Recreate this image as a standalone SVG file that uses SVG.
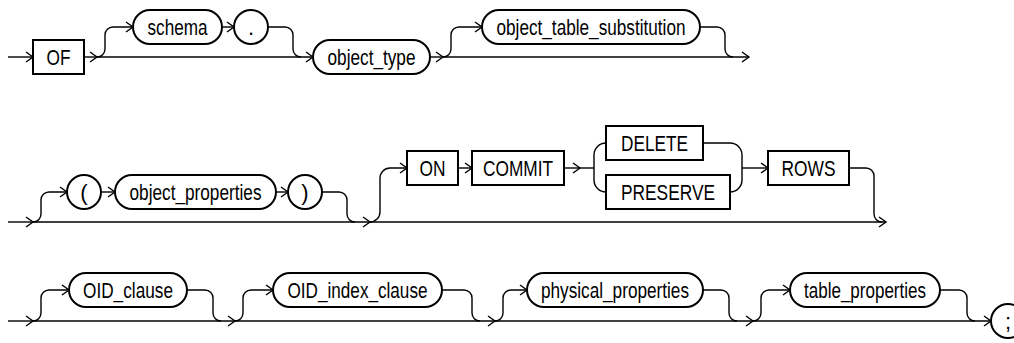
<svg xmlns="http://www.w3.org/2000/svg" width="1014" height="343" viewBox="0 0 1014 343">
<style>
.n{fill:#fff;stroke:#000;stroke-width:2}
.c{fill:none;stroke:#000;stroke-width:1.4}
.a{marker-end:url(#ar)}
text{font-family:"Liberation Sans Narrow","Liberation Sans",Arial,sans-serif;font-size:22px;text-anchor:middle;fill:#000}
</style>
<defs>
<marker id="ar" markerUnits="userSpaceOnUse" markerWidth="10" markerHeight="12" refX="7" refY="5" orient="auto" overflow="visible">
<path d="M0,0 L7,5 L0,10" fill="none" stroke="#000" stroke-width="1.4"/>
</marker>
</defs>
<g id="connectors">
<path class="c a" d="M8,57 L33,57"/>
<path class="c a" d="M84,57 L97,57"/>
<path class="c a" d="M97,57 L313,57"/>
<path class="c a" d="M97,57 A8,8 0 0 0 105,49 L105,35 A8,8 0 0 1 113,27 L133,27"/>
<path class="c a" d="M222,27 L234,27"/>
<path class="c" d="M268,27 L285,27 A8,8 0 0 1 293,35 L293,49 A8,8 0 0 0 301,57"/>
<path class="c a" d="M430,57 L443,57"/>
<path class="c a" d="M443,57 L749,57"/>
<path class="c a" d="M443,57 A8,8 0 0 0 451,49 L451,35 A8,8 0 0 1 459,27 L482,27"/>
<path class="c" d="M700,27 L717,27 A8,8 0 0 1 725,35 L725,49 A8,8 0 0 0 733,57"/>

<path class="c a" d="M8,222 L33,222"/>
<path class="c a" d="M33,222 L370,222"/>
<path class="c a" d="M370,222 L886,222"/>
<path class="c a" d="M33,222 A8,8 0 0 0 41,214 L41,200 A8,8 0 0 1 49,192 L67,192"/>
<path class="c a" d="M101,192 L115,192"/>
<path class="c a" d="M276,192 L288,192"/>
<path class="c" d="M322,192 L339,192 A8,8 0 0 1 347,200 L347,214 A8,8 0 0 0 355,222"/>
<path class="c a" d="M370,222 A10,10 0 0 0 380,212 L380,178 A10,10 0 0 1 390,168 L407,168"/>
<path class="c a" d="M458,168 L472,168"/>
<path class="c a" d="M564,168 L580,168"/>
<path class="c" d="M580,168 L594,168"/>
<path class="c" d="M606,143 A12,12 0 0 0 594,155 L594,180 A12,12 0 0 0 606,192"/>
<path class="c" d="M703,143 L730,143 A12,12 0 0 1 742,155 L742,180 A12,12 0 0 1 730,192"/>
<path class="c a" d="M742,168 L768,168"/>
<path class="c" d="M849,168 L866,168 A8,8 0 0 1 874,176 L874,214 A8,8 0 0 0 882,222"/>

<path class="c a" d="M8,321 L33,321"/>
<path class="c a" d="M33,321 L235,321"/>
<path class="c a" d="M33,321 A8,8 0 0 0 41,313 L41,298 A8,8 0 0 1 49,290 L69,290"/>
<path class="c" d="M187,290 L205,290 A8,8 0 0 1 213,298 L213,313 A8,8 0 0 0 221,321"/>
<path class="c a" d="M235,321 L495,321"/>
<path class="c a" d="M235,321 A8,8 0 0 0 243,313 L243,298 A8,8 0 0 1 251,290 L273,290"/>
<path class="c" d="M442,290 L464,290 A8,8 0 0 1 472,298 L472,313 A8,8 0 0 0 480,321"/>
<path class="c a" d="M495,321 L753,321"/>
<path class="c a" d="M495,321 A8,8 0 0 0 503,313 L503,298 A8,8 0 0 1 511,290 L527,290"/>
<path class="c" d="M703,290 L721,290 A8,8 0 0 1 729,298 L729,313 A8,8 0 0 0 737,321"/>
<path class="c a" d="M753,321 L991,321"/>
<path class="c a" d="M753,321 A8,8 0 0 0 761,313 L761,298 A8,8 0 0 1 769,290 L790,290"/>
<path class="c" d="M940,290 L959,290 A8,8 0 0 1 967,298 L967,313 A8,8 0 0 0 975,321"/>
</g>

<g id="n-OF"><rect class="n" x="33" y="40" width="51" height="34"/><text x="58.5" y="65" textLength="24" lengthAdjust="spacingAndGlyphs">OF</text></g>
<g id="n-schema"><rect class="n" x="133" y="10" width="89" height="34" rx="17"/><text x="177.5" y="35" textLength="60" lengthAdjust="spacingAndGlyphs">schema</text></g>
<g id="n-dot"><circle class="n" cx="251" cy="27" r="17"/><text x="251" y="35">.</text></g>
<g id="n-object_type"><rect class="n" x="313" y="40" width="117" height="34" rx="17"/><text x="371.5" y="65" textLength="88" lengthAdjust="spacingAndGlyphs">object_type</text></g>
<g id="n-object_table_substitution"><rect class="n" x="482" y="10" width="218" height="34" rx="17"/><text x="591" y="35" textLength="189" lengthAdjust="spacingAndGlyphs">object_table_substitution</text></g>

<g id="n-lparen"><circle class="n" cx="84" cy="192" r="17"/><text x="84" y="200">(</text></g>
<g id="n-object_properties"><rect class="n" x="115" y="175" width="161" height="34" rx="17"/><text x="195.5" y="200" textLength="132" lengthAdjust="spacingAndGlyphs">object_properties</text></g>
<g id="n-rparen"><circle class="n" cx="305" cy="192" r="17"/><text x="305" y="200">)</text></g>
<g id="n-ON"><rect class="n" x="407" y="151" width="51" height="34"/><text x="432.5" y="176" textLength="26" lengthAdjust="spacingAndGlyphs">ON</text></g>
<g id="n-COMMIT"><rect class="n" x="472" y="151" width="92" height="34"/><text x="518" y="176" textLength="70" lengthAdjust="spacingAndGlyphs">COMMIT</text></g>
<g id="n-DELETE"><rect class="n" x="606" y="126" width="97" height="34"/><text x="654.5" y="151" textLength="67" lengthAdjust="spacingAndGlyphs">DELETE</text></g>
<g id="n-PRESERVE"><rect class="n" x="606" y="175" width="124" height="34"/><text x="668" y="200" textLength="94" lengthAdjust="spacingAndGlyphs">PRESERVE</text></g>
<g id="n-ROWS"><rect class="n" x="768" y="151" width="81" height="34"/><text x="808.5" y="176" textLength="54" lengthAdjust="spacingAndGlyphs">ROWS</text></g>

<g id="n-OID_clause"><rect class="n" x="69" y="273" width="118" height="34" rx="17"/><text x="128" y="298" textLength="90" lengthAdjust="spacingAndGlyphs">OID_clause</text></g>
<g id="n-OID_index_clause"><rect class="n" x="273" y="273" width="169" height="34" rx="17"/><text x="357.5" y="298" textLength="140" lengthAdjust="spacingAndGlyphs">OID_index_clause</text></g>
<g id="n-physical_properties"><rect class="n" x="527" y="273" width="176" height="34" rx="17"/><text x="615" y="298" textLength="148" lengthAdjust="spacingAndGlyphs">physical_properties</text></g>
<g id="n-table_properties"><rect class="n" x="790" y="273" width="150" height="34" rx="17"/><text x="865" y="298" textLength="122" lengthAdjust="spacingAndGlyphs">table_properties</text></g>
<g id="n-semicolon"><circle class="n" cx="1008" cy="321" r="17"/><text x="1008" y="329">;</text></g>
</svg>
